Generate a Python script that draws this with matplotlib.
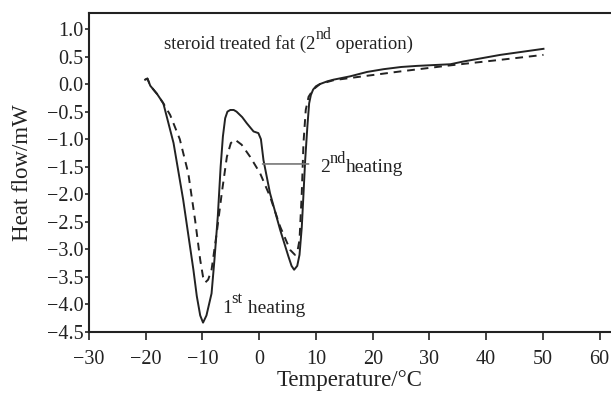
import numpy as np
import matplotlib
matplotlib.use("Agg")
import matplotlib.pyplot as plt
from matplotlib.transforms import offset_copy

plt.rcParams['font.family'] = ['Liberation Serif', 'DejaVu Serif']

# 1st heating (solid)
temp_1st = [-20.1, -19.7, -19.2, -18.0, -16.9, -15.1, -13.4, -11.6, -11.0, -10.4,
            -9.9, -9.3, -8.4, -7.9, -7.3, -6.8, -6.4, -6.0, -5.6, -5.1,
            -4.5, -4.0, -3.0, -2.2, -1.0, -0.15, 0.3, 0.75, 1.9, 3.7,
            5.15, 5.7, 6.15, 6.7, 7.1, 7.5, 7.8, 8.1, 8.5, 8.8,
            9.1, 9.5, 10.0, 10.7, 12.0, 13.1, 16.0, 19.0, 21.9, 25.0,
            27.8, 33.7, 36.0, 42.5, 50.1]
flow_1st = [0.08, 0.1, -0.03, -0.18, -0.35, -1.07, -2.1, -3.37, -3.85, -4.2,
            -4.33, -4.2, -3.8, -3.2, -2.4, -1.5, -0.95, -0.62, -0.5, -0.47,
            -0.47, -0.5, -0.6, -0.71, -0.86, -0.89, -1.0, -1.38, -1.98, -2.65,
            -3.13, -3.3, -3.37, -3.3, -3.1, -2.6, -2.0, -1.38, -0.75, -0.35,
            -0.2, -0.1, -0.04, 0.0, 0.05, 0.08, 0.14, 0.22, 0.27, 0.31,
            0.33, 0.36, 0.41, 0.53, 0.64]

# 2nd heating (dashed)
temp_2nd = [-20.1, -19.7, -19.2, -18.0, -16.9, -15.7, -14.0, -12.5, -11.3, -10.4,
            -9.9, -9.5, -9.0, -8.4, -7.5, -6.6, -5.7, -5.0, -4.25, -3.1,
            -1.6, 0.16, 1.9, 3.7, 5.45, 6.3, 6.8, 7.1, 7.5, 7.8,
            8.2, 8.7, 9.5, 10.7, 13.1, 16.0, 24.9, 33.7, 42.5, 50.1]
flow_2nd = [0.08, 0.1, -0.03, -0.18, -0.35, -0.56, -1.0, -1.62, -2.47, -3.19,
            -3.5, -3.6, -3.55, -3.37, -2.71, -1.98, -1.32, -1.07, -1.01, -1.1,
            -1.32, -1.62, -2.04, -2.59, -3.01, -3.1, -3.0, -2.83, -1.98, -1.07,
            -0.47, -0.23, -0.1, 0.0, 0.07, 0.11, 0.23, 0.34, 0.44, 0.53]

fig = plt.figure(figsize=(6.11, 3.94), dpi=100)
ax = fig.add_axes([89/611, 1-332/394, 1-89/611, (332-13)/394])

ax.plot(temp_1st, flow_1st, '-', color='#222222', lw=1.4)
ax.plot(temp_2nd, flow_2nd, color='#222222', lw=1.4, linestyle=(0, (4, 3)))

ax.set_xlim(-30, 62)
ax.set_ylim(-4.5, 1.29)
ax.set_xticks(np.arange(-30, 61, 10))
ax.set_yticks(np.arange(-4.5, 1.01, 0.5))
ax.yaxis.set_major_formatter(plt.FuncFormatter(lambda v, p: ("%.1f" % v).replace("-", "\u2212")))
ax.xaxis.set_major_formatter(plt.FuncFormatter(lambda v, p: ("%d" % round(v)).replace("-", "\u2212")))
ax.tick_params(direction='out', length=6, width=1.2, labelsize=14.5, colors='#222222')
ax.tick_params(axis='x', pad=7)
ax.tick_params(axis='y', pad=1, length=3)

for s in ['left', 'bottom', 'top']:
    ax.spines[s].set_linewidth(1.5)
    ax.spines[s].set_color('#222222')
ax.spines['right'].set_visible(False)

ax.set_xlabel("Temperature/\u00b0C", fontsize=16.5, labelpad=1, color='#222222')
ax.set_ylabel("Heat flow/mW", fontsize=16.5, labelpad=10, color='#222222')

renderer = fig.canvas.get_renderer()


def rich_text(x, y, parts, size):
    # parts: (text, superscript?) drawn one after another on one baseline
    dx = 0.0
    for s, sup in parts:
        fs = size * 0.85 if sup else size
        dy = size * 0.5 if sup else 0.0
        tr = offset_copy(ax.transData, fig=fig, x=dx, y=dy * 100 / 72, units='dots')
        t = ax.text(x, y, s, fontsize=fs, color='#222222', va='baseline',
                    ha='left', transform=tr)
        dx += t.get_window_extent(renderer).width


rich_text(-16.75, 0.64, [("steroid treated fat (2", False), ("nd", True),
                          (" operation)", False)], 13.5)
rich_text(-6.6, -4.15, [("1", False), ("st", True), (" heating", False)], 14)
ax.annotate("", xy=(0.1, -1.45), xytext=(9.2, -1.45),
            arrowprops=dict(arrowstyle='-', color='#777777', lw=1.2))
rich_text(10.7, -1.6, [("2", False), ("nd", True), ("heating", False)], 14)

plt.savefig("out.png", dpi=100)
